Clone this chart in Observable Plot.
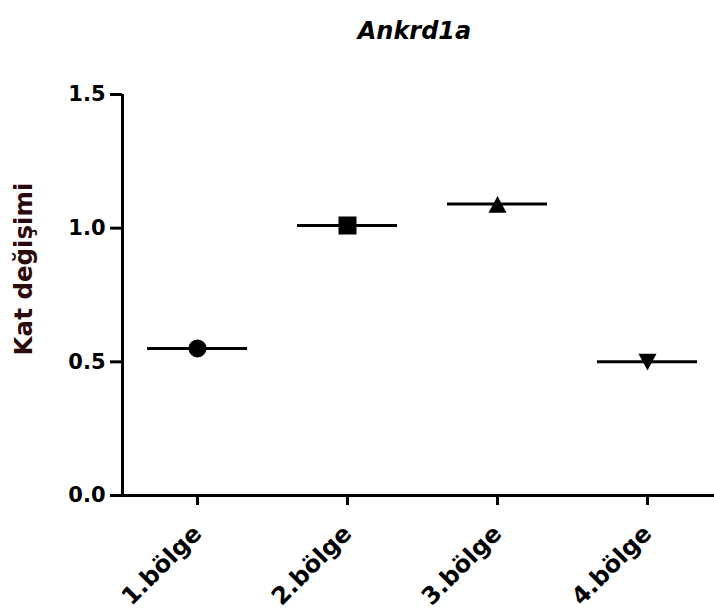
<!DOCTYPE html>
<html>
<head>
<meta charset="utf-8">
<script src="https://cdn.jsdelivr.net/npm/d3@7"></script>
<script src="https://cdn.jsdelivr.net/npm/@observablehq/plot@0.6"></script>
<style>
  html, body { margin: 0; padding: 0; background: #fff; }
  #chart svg { display: block; }
  #chart g[aria-label^="y-axis"] line, #chart g[aria-label^="y-axis"] path,
  #chart g[aria-label^="x-axis"] line, #chart g[aria-label^="x-axis"] path { stroke: #000; stroke-width: 3px; }
  #chart g[aria-label^="y-axis"] text { font-size: 21px; fill: #000; }
  #chart g[aria-label^="x-axis"] text { font-size: 24px; fill: #000; }
</style>
</head>
<body>
<div id="chart"></div>
<script>
const title = "Ankrd1a";
const yLabel = "Kat değişimi";
const categories = ["1.bölge", "2.bölge", "3.bölge", "4.bölge"];
const values = [0.55, 1.01, 1.09, 0.50];
const yTicks = [0, 0.5, 1.0, 1.5];
const yDomain = [0, 1.5];

const rows = categories.map((c, i) => ({cat: c, val: values[i]}));

const rad = (size) => Math.sqrt(size / Math.PI);
const symCircle = {draw(ctx, size) { const r = rad(size); ctx.moveTo(r, 0); ctx.arc(0, 0, r, 0, 2 * Math.PI); ctx.closePath(); }};
const symSquare = {draw(ctx, size) { const r = rad(size); ctx.rect(-r, -r, 2 * r, 2 * r); }};
const symTri = {draw(ctx, size) { const r = rad(size); ctx.moveTo(0, -r * 0.9); ctx.lineTo(r, r * 0.95); ctx.lineTo(-r, r * 0.95); ctx.closePath(); }};
const symInvTri = {draw(ctx, size) { const r = rad(size); ctx.moveTo(-r, -r * 0.9); ctx.lineTo(r, -r * 0.9); ctx.lineTo(0, r * 0.95); ctx.closePath(); }};

const chart = Plot.plot({
  width: 714,
  height: 614,
  marginLeft: 122,
  marginRight: 0,
  marginTop: 94,
  marginBottom: 119,
  style: {fontFamily: "DejaVu Sans", fontWeight: "bold", fontSize: "21px", color: "#000", background: "#fff"},
  x: {
    type: "band",
    domain: categories,
    range: [122, 722],
    paddingInner: 1 / 3,
    paddingOuter: 1 / 6,
    tickSize: 10,
    tickPadding: 24,
    tickRotate: -45,
    label: null
  },
  y: {
    domain: yDomain,
    ticks: yTicks,
    tickFormat: d3.format(".1f"),
    tickSize: 12,
    tickPadding: 5,
    label: null
  },
  symbol: {domain: categories, range: [symCircle, symSquare, symTri, symInvTri], legend: false},
  marks: [
    Plot.ruleY([0], {stroke: "#000", strokeWidth: 3}),
    Plot.ruleX([categories[0]], {x: d => d, y1: yDomain[0], y2: yDomain[1], dx: -75, stroke: "#000", strokeWidth: 3}),
    Plot.tickY(rows, {x: "cat", y: "val", stroke: "#000", strokeWidth: 3}),
    Plot.dot(rows, {x: "cat", y: "val", symbol: "cat", r: 9, fill: "#000", stroke: "none"}),
    Plot.text([title], {text: d => d, frameAnchor: "top", dy: -73, dx: -4, fontSize: 24, fontWeight: "bold", fontStyle: "italic", fill: "#000"}),
    Plot.text([yLabel], {text: d => d, frameAnchor: "left", textAnchor: "middle", rotate: -90, dx: -98, dy: -26, fontSize: 24.5, fontWeight: "bold", fill: "#2a0a0a"})
  ]
});
document.getElementById("chart").appendChild(chart);
</script>
</body>
</html>
